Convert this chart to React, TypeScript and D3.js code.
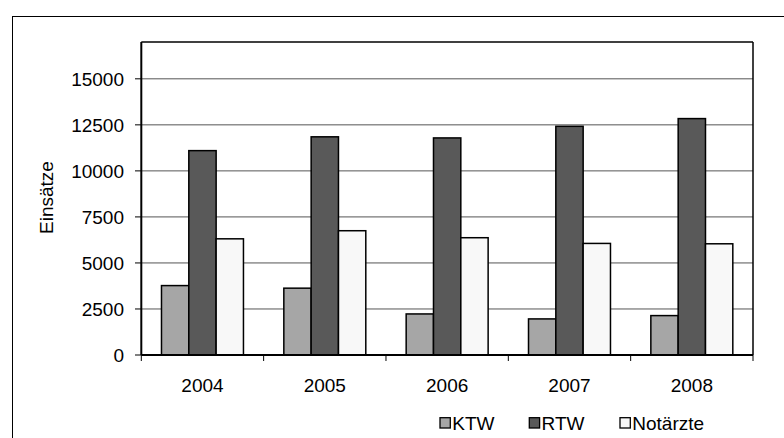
import React from "react";
import * as d3 from "d3";

const years = ["2004", "2005", "2006", "2007", "2008"];
const seriesNames = ["KTW", "RTW", "Notärzte"];
const ktw = [3770, 3630, 2230, 1960, 2140];
const rtw = [11100, 11850, 11790, 12420, 12840];
const notaerzte = [6310, 6750, 6370, 6060, 6040];
const yTicks = [0, 2500, 5000, 7500, 10000, 12500, 15000];
const colors = ["#a6a6a6", "#595959", "#f8f8f8"];

const W = 784;
const H = 438;
const plotL = 141.3;
const plotR = 753;
const plotT = 42;
const plotB = 355;
const FONT = "'Liberation Sans', Arial, sans-serif";

export default function App() {
  const values = [ktw, rtw, notaerzte];
  const x = d3.scaleBand<string>().domain(years).range([plotL, plotR]).paddingInner(0.33).paddingOuter(0.165);
  const xs = d3.scaleBand<string>().domain(seriesNames).range([0, x.bandwidth()]);
  const y = d3.scaleLinear().domain([0, 17000]).range([plotB, plotT]);
  const step = (plotR - plotL) / years.length;
  const boundaries = d3.range(years.length + 1).map((i) => plotL + i * step);

  const legendX = [440, 529.3, 620];

  return (
    <svg width={W} height={H} style={{ position: "absolute", left: 0, top: 0 }} fontFamily={FONT}>
      <rect x={0} y={0} width={W} height={H} fill="#fff" />
      <rect x={12.5} y={16.5} width={900} height={600} fill="none" stroke="#000" strokeWidth={1} />
      {/* gridlines */}
      {yTicks.slice(1).map((t) => (
        <line key={t} x1={plotL} x2={plotR} y1={y(t)} y2={y(t)} stroke="#555" strokeWidth={1} />
      ))}
      {/* plot border top/right */}
      <line x1={plotL} x2={plotR} y1={plotT} y2={plotT} stroke="#000" strokeWidth={1.5} />
      <line x1={plotR} x2={plotR} y1={plotT} y2={plotB} stroke="#000" strokeWidth={1.5} />
      {/* bars */}
      {years.map((yr, i) => (
        <g key={yr}>
          {seriesNames.map((s, j) => {
            const v = values[j][i];
            return (
              <rect
                key={s}
                x={(x(yr) as number) + (xs(s) as number)}
                y={y(v)}
                width={xs.bandwidth()}
                height={plotB - y(v)}
                fill={colors[j]}
                stroke="#000"
                strokeWidth={1.5}
              />
            );
          })}
        </g>
      ))}
      {/* y axis */}
      <line x1={plotL} x2={plotL} y1={plotT} y2={plotB} stroke="#000" strokeWidth={2} />
      {yTicks.map((t) => (
        <g key={t}>
          <line x1={135} x2={plotL} y1={y(t)} y2={y(t)} stroke="#000" strokeWidth={1} />
          <text x={124} y={y(t)} dy="0.36em" textAnchor="end" fontSize={19} fill="#000">
            {t}
          </text>
        </g>
      ))}
      {/* x axis */}
      <line x1={plotL} x2={plotR} y1={plotB} y2={plotB} stroke="#000" strokeWidth={2.2} />
      {boundaries.map((b, i) => (
        <line key={i} x1={b} x2={b} y1={plotB} y2={361} stroke="#000" strokeWidth={1} />
      ))}
      {years.map((yr) => (
        <text key={yr} x={(x(yr) as number) + x.bandwidth() / 2} y={391.5} textAnchor="middle" fontSize={19} fill="#000">
          {yr}
        </text>
      ))}
      {/* y label */}
      <text transform={`translate(53,197.5) rotate(-90)`} textAnchor="middle" fontSize={19} fill="#000">
        Einsätze
      </text>
      {/* legend */}
      {seriesNames.map((s, j) => (
        <g key={s}>
          <rect x={legendX[j]} y={417.7} width={10.3} height={10.3} fill={colors[j]} stroke="#000" strokeWidth={1.3} />
          <text x={legendX[j] + 12.3} y={430} fontSize={19} fill="#000">
            {s}
          </text>
        </g>
      ))}
    </svg>
  );
}
